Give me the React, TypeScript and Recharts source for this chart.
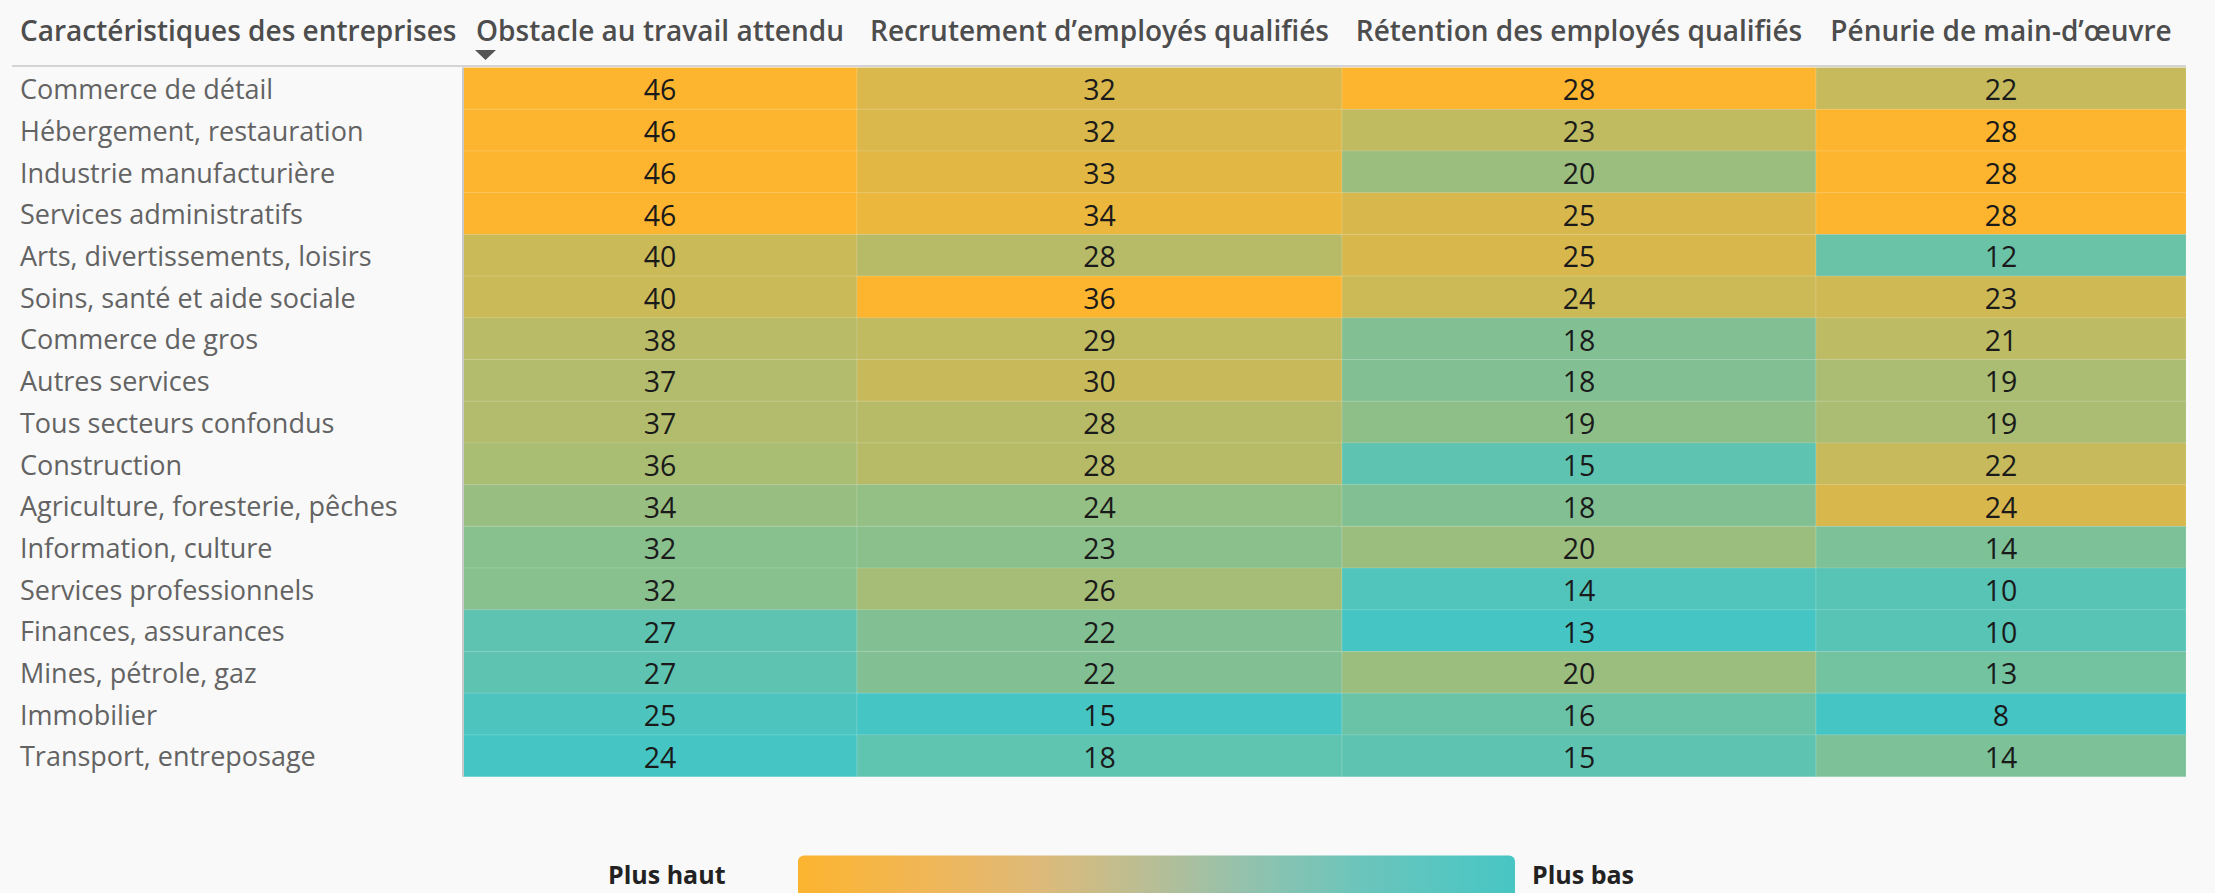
import React from 'react';
import { BarChart, Bar, XAxis, YAxis } from 'recharts';

// ---------- data ----------
const sectors = [
  'Commerce de détail',
  'Hébergement, restauration',
  'Industrie manufacturière',
  'Services administratifs',
  'Arts, divertissements, loisirs',
  'Soins, santé et aide sociale',
  'Commerce de gros',
  'Autres services',
  'Tous secteurs confondus',
  'Construction',
  'Agriculture, foresterie, pêches',
  'Information, culture',
  'Services professionnels',
  'Finances, assurances',
  'Mines, pétrole, gaz',
  'Immobilier',
  'Transport, entreposage',
];
const obstacle = [46, 46, 46, 46, 40, 40, 38, 37, 37, 36, 34, 32, 32, 27, 27, 25, 24];
const recrutement = [32, 32, 33, 34, 28, 36, 29, 30, 28, 28, 24, 23, 26, 22, 22, 15, 18];
const retention = [28, 23, 20, 25, 25, 24, 18, 18, 19, 15, 18, 20, 14, 13, 20, 16, 15];
const penurie = [22, 28, 28, 28, 12, 23, 21, 19, 19, 22, 24, 14, 10, 10, 13, 8, 14];
const columnHeaders = [
  'Obstacle au travail attendu',
  'Recrutement d’employés qualifiés',
  'Rétention des employés qualifiés',
  'Pénurie de main-d’œuvre',
];
const rowHeader = 'Caractéristiques des entreprises';
const legendHigh = 'Plus haut';
const legendLow = 'Plus bas';

const series = [obstacle, recrutement, retention, penurie];

// ---------- layout / style ----------
const W = 2215;
const H = 893;
const COL_WIDTHS = [394, 485, 474, 370];
const TOTAL = COL_WIDTHS.reduce((a, b) => a + b, 0);
const COL_STARTS = COL_WIDTHS.map((_, i) => COL_WIDTHS.slice(0, i).reduce((a, b) => a + b, 0));
const COL_CENTERS = COL_WIDTHS.map((w, i) => COL_STARTS[i] + w / 2);
const FONT = '"Open Sans", "Noto Sans", sans-serif';
const LOW = [69, 198, 197];
const HIGH = [253, 181, 47];

const ranges = series.map((s) => [Math.min(...s), Math.max(...s)]);
function heat(v: number, c: number) {
  const [mn, mx] = ranges[c];
  const t = (v - mn) / (mx - mn);
  const ch = LOW.map((l, k) => Math.round(l + (HIGH[k] - l) * t));
  return `rgb(${ch[0]},${ch[1]},${ch[2]})`;
}

const table = sectors.map((sector, i) => ({
  sector,
  values: series.map((s) => s[i]),
}));

const makeShape = (c: number) => (p: any) => {
  const v = p.payload.values[c];
  return (
    <g>
      <rect
        x={p.x}
        y={p.y}
        width={p.width}
        height={p.height}
        fill={heat(v, c)}
        stroke="rgba(255,255,255,0.14)"
        strokeWidth={1}
      />
      <text
        x={p.x + p.width / 2}
        y={p.y + p.height / 2}
        dy="0.42em"
        textAnchor="middle"
        fontFamily={FONT}
        fontSize={28.5}
        fill="#1a1a1a"
      >
        {v}
      </text>
    </g>
  );
};

const HeaderTick = (p: any) => {
  const idx = p.index;
  const x = p.x;
  return (
    <g>
      <text
        x={x}
        y={41}
        textAnchor="middle"
        fontFamily={FONT}
        fontWeight={600}
        fontSize={28}
        fill="#4d4d4d"
      >
        {columnHeaders[idx]}
      </text>
      {idx === 0 ? (
        <path
          d={`M ${x - COL_WIDTHS[0] / 2 + 12} 50 L ${x - COL_WIDTHS[0] / 2 + 33} 50 L ${x - COL_WIDTHS[0] / 2 + 22.5} 60 Z`}
          fill="#555"
        />
      ) : null}
    </g>
  );
};

const SectorTick = (p: any) => (
  <text
    x={20}
    y={p.y}
    dy="0.4em"
    textAnchor="start"
    fontFamily={FONT}
    fontSize={27}
    fill="#636363"
  >
    {p.payload.value}
  </text>
);

export default function App() {
  return (
    <div
      style={{
        position: 'fixed',
        left: 0,
        top: 0,
        width: W,
        height: H,
        background: '#F9F9F9',
        overflow: 'hidden',
        fontFamily: FONT,
      }}
    >
      <div style={{ position: 'absolute', left: 0, top: 0 }}>
        <BarChart
          width={W}
          height={800}
          data={table}
          layout="vertical"
          margin={{ top: 0, right: W - 463 - TOTAL, bottom: 800 - 776.5, left: 0 }}
          barCategoryGap={0}
          barGap={0}
        >
          <XAxis
            type="number"
            orientation="top"
            domain={[0, TOTAL]}
            ticks={COL_CENTERS}
            interval={0}
            height={67.5}
            axisLine={false}
            tickLine={false}
            tick={<HeaderTick />}
          />
          <YAxis
            type="category"
            dataKey="sector"
            width={463}
            axisLine={{ stroke: '#C9C9C9', strokeWidth: 2 }}
            tickLine={false}
            tick={<SectorTick />}
            interval={0}
          />
          {series.map((_, c) => (
            <Bar
              key={c}
              dataKey={() => COL_WIDTHS[c]}
              stackId="grid"
              isAnimationActive={false}
              shape={makeShape(c)}
            />
          ))}
        </BarChart>
      </div>
      <svg
        width={W}
        height={H}
        style={{ position: 'absolute', left: 0, top: 0, pointerEvents: 'none' }}
      >
        <defs>
          <linearGradient id="legendGrad" x1="0" x2="1" y1="0" y2="0">
            <stop offset="0%" stopColor="#FCB42F" />
            <stop offset="18%" stopColor="#F0B757" />
            <stop offset="33%" stopColor="#DFBA78" />
            <stop offset="50%" stopColor="#B6BE97" />
            <stop offset="64%" stopColor="#8FC2AF" />
            <stop offset="79%" stopColor="#6AC5BC" />
            <stop offset="100%" stopColor="#47C6C4" />
          </linearGradient>
        </defs>
        <text x={20} y={41} fontFamily={FONT} fontWeight={600} fontSize={28} fill="#4d4d4d">
          {rowHeader}
        </text>
        <rect x={12} y={65} width={2174} height={2} fill="#D4D4D4" />
        <rect x={798} y={855.5} width={717} height={60} rx={6} fill="url(#legendGrad)" />
        <text x={608} y={884} fontFamily={FONT} fontWeight={700} fontSize={25} fill="#222">
          {legendHigh}
        </text>
        <text x={1532} y={884} fontFamily={FONT} fontWeight={700} fontSize={25} fill="#222">
          {legendLow}
        </text>
      </svg>
    </div>
  );
}
